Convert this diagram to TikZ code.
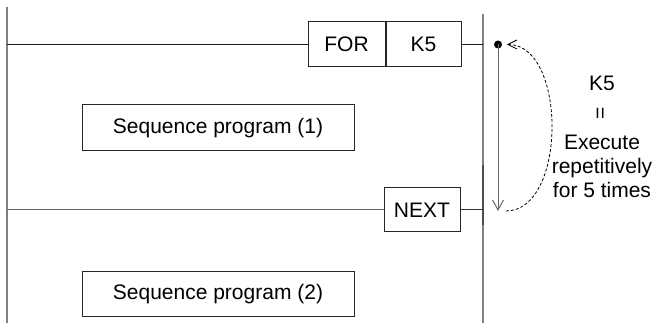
\documentclass[tikz,border=0pt]{standalone}
\usepackage{fontspec}
\setmainfont{Liberation Sans}
\usetikzlibrary{arrows.meta}

\begin{document}
\begin{tikzpicture}[x=1pt, y=-1pt, font=\fontsize{21}{25}\selectfont,
    instr/.style={draw=black!85, line width=1pt, minimum height=45pt, inner sep=0pt},
    rail/.style={gray, line width=1.5pt},
    rung/.style={line width=1pt}]

    \useasboundingbox (0,0) rectangle (654,323);

    % 1. The two power rails
    \coordinate (Ltop) at (7,7);
    \coordinate (Lbot) at (7,323);
    \coordinate (Rtop) at (483,14);
    \coordinate (Rbot) at (483,323);
    \draw[rail] (Ltop) -- (Lbot);
    \draw[rail] (Rtop) -- (Rbot);
    \coordinate (Rd1) at (483,165);
    \coordinate (Rd2) at (483,225);
    \draw[rail, black!70] (Rd1) -- (Rd2);

    % 2. FOR K5 and NEXT instructions
    \node[instr, minimum width=77pt] (FOR) at (346.5,44.5) {FOR};
    \node[instr, minimum width=75pt, anchor=west] (K5) at (FOR.east) {K5};
    \node[instr, minimum width=76pt, minimum height=44pt] (NEXT) at (422,210) {NEXT};

    % 3. The rungs
    \draw[rung, black!90] (FOR.west -| Ltop) -- (FOR.west);
    \draw[rung, black!90] (K5.east) -- (K5.east -| Rtop);
    \draw[rung, black!60] (NEXT.west -| Ltop) -- (NEXT.west);
    \draw[rung, black!80] (NEXT.east) -- (NEXT.east -| Rtop);

    % 4. Sequence program blocks
    \node[instr, minimum width=272pt, minimum height=46pt] (seq1) at (218,128) {Sequence program (1)};
    \node[instr, minimum width=272pt] (seq2) at (218,294.5) {Sequence program (2)};

    % 5. Loop arrows
    \coordinate (dot) at (498,44.5);
    \coordinate (tip) at (498,211);
    \fill (dot) circle (4);
    \draw[gray!80!black, line width=1pt, -{Straight Barb[length=10pt,width=11pt]}] (dot) -- (tip);
    \coordinate (loopS) at (506,211);
    \coordinate (loopE) at (507,44.5);
    \draw[dash pattern=on 3pt off 2pt, line width=0.8pt, -{Straight Barb[length=9pt,width=9pt]}]
        (loopS) .. controls (567,211) and (567,44.5) .. (loopE);

    % 6. Explanation text
    \node[anchor=base] (k5txt) at (602,91) {K5};
    \node[rotate=90] (eqtxt) at (602,113) {=};
    \node[anchor=base] (exec) at (602,150) {Execute};
    \node[anchor=base] (rep) at (602,174) {repetitively};
    \node[anchor=base] (times) at (602,198) {for 5 times};
\end{tikzpicture}
\end{document}
